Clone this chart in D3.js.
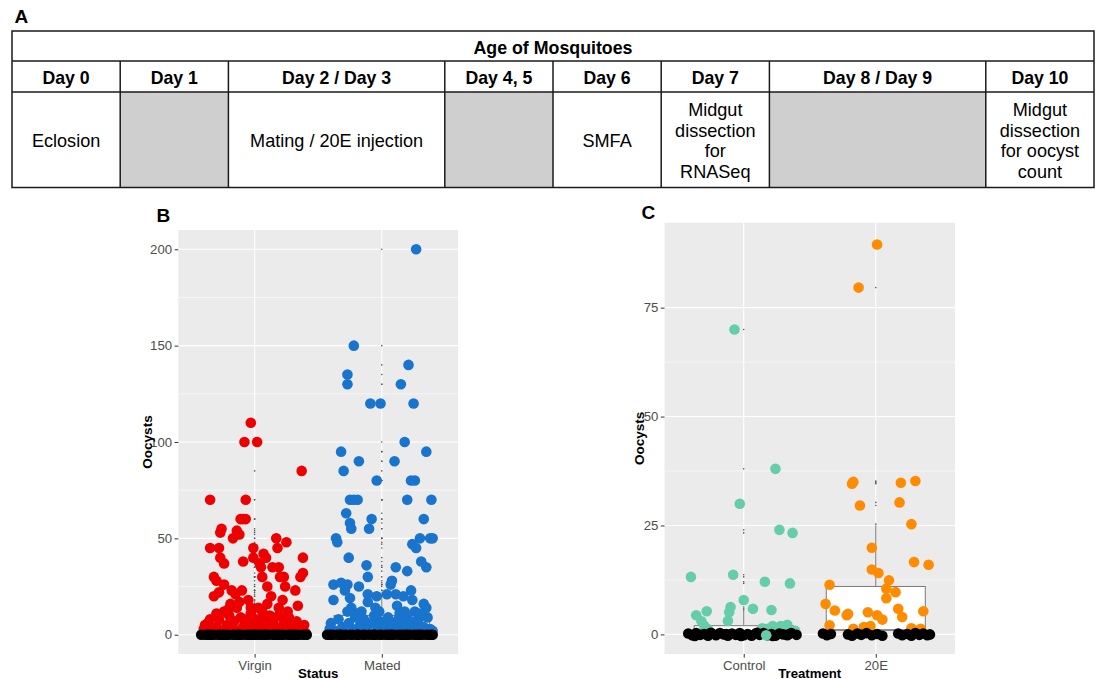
<!DOCTYPE html>
<html><head><meta charset="utf-8">
<script src="https://cdn.jsdelivr.net/npm/d3@7"></script>
<style>body{margin:0;background:#fff}svg{display:block;font-family:"Liberation Sans",Arial,Helvetica,sans-serif}</style>
</head><body><svg id="c" width="1099" height="679"></svg>
<script>
// ---------------- DATA ----------------
const tableTitle = "Age of Mosquitoes";
const dayLabels = ["Day 0","Day 1","Day 2 / Day 3","Day 4, 5","Day 6","Day 7","Day 8 / Day 9","Day 10"];
const daySpans = [1,1,2,1,1,1,2,1];
const dayEvents = [["Eclosion"],[],["Mating / 20E injection"],[],["SMFA"],["Midgut","dissection","for","RNASeq"],[],["Midgut","dissection","for oocyst","count"]];

const statusCats = ["Virgin","Mated"];
const treatCats = ["Control","20E"];
const statusTicks = [0,50,100,150,200];
const treatTicks = [0,25,50,75];

// boxplot statistics
const statusQ1 = [0,0], statusMed = [0,1], statusQ3 = [5,10], statusHi = [12,22];
const treatQ1 = [0,1], treatMed = [0,1], treatQ3 = [2,11], treatHi = [5.5,25];

// jittered points: [jitter (category units), oocysts]
const virginPts = [[-0.03,110],[-0.08,100],[0.02,100],[0.37,85],[-0.35,70],[-0.07,70],
 [-0.11,60],[-0.09,60],[-0.07,60],[-0.26,55],[-0.27,53],[-0.14,54],[-0.12,52],
 [-0.17,50],[0.17,50],[0.25,48],[0.18,45],[-0.35,45],[-0.28,45],[-0.01,45],
 [-0.27,40],[-0.24,37],[-0.09,38],[-0.01,40],[0.07,42],[0.09,40],[0.04,37],[0.05,35],[0.14,35],[0.19,35],
 [0.38,40],[0.38,32],[0.36,30],[0.2,30],[0.23,30],[-0.32,30],[-0.3,28],[-0.24,26],[0.06,30],[0.1,25],[0.24,25],[0.32,23],
 [-0.32,20],[-0.28,22],[-0.18,23],[-0.1,23],[-0.15,21],[0.13,20],[0.22,18],[0.34,15],[0.19,14],[-0.05,18],
 [-0.19,16],[-0.14,14],[-0.24,12],[-0.03,14],[0.03,14],[0.06,12],[0.12,10],[-0.35,8],[-0.39,5],
 [-0.40,3],[-0.37,6],[-0.33,2],[-0.30,4],[-0.28,8],[-0.25,2],[-0.22,5],[-0.20,10],[-0.18,3],[-0.16,7],
 [-0.13,2],[-0.11,9],[-0.09,4],[-0.07,1],[-0.05,6],[-0.03,11],[-0.01,3],[0.01,8],[0.03,2],[0.05,5],
 [0.07,9],[0.09,3],[0.11,6],[0.13,1],[0.15,8],[0.17,4],[0.19,10],[0.21,2],[0.23,7],[0.25,3],[0.27,9],
 [0.29,5],[0.31,2],[0.33,7],[0.35,4],[0.37,2],[0.39,5],[0.40,1],[-0.35,1],[-0.15,1],[0.0,1],[0.18,1],[0.33,1],
 [-0.21,13],[0.02,6],[-0.08,8],[0.26,12],[0.30,6],[-0.12,17],[0.10,16],[-0.30,11]];
const virginZeros = [-0.42,-0.39,-0.37,-0.34,-0.32,-0.29,-0.27,-0.24,-0.22,-0.20,-0.17,-0.15,-0.12,-0.10,-0.07,
 -0.05,-0.03,-0.01,0.02,0.04,0.06,0.09,0.11,0.14,0.16,0.18,0.21,0.23,0.26,0.28,0.30,0.33,0.35,0.38,0.41,
 -0.36,-0.25,-0.13,0.0,0.08,0.19,0.31,0.40];

const matedPts = [[0.27,200],[-0.22,150],[-0.27,135],[-0.27,130],[0.21,140],[0.15,130],[-0.09,120],[-0.01,120],[0.25,120],
 [0.18,100],[-0.32,95],[0.35,95],[-0.18,90],[0.10,90],[-0.30,85],[-0.04,80],[0.23,80],[0.26,80],
 [-0.25,70],[-0.22,70],[-0.19,70],[0.20,70],[0.39,70],[-0.28,63],[-0.08,60],[-0.25,58],[-0.24,55],[-0.10,55],[0.33,60],
 [-0.36,50],[-0.35,48],[0.30,50],[0.38,50],[0.40,50],[0.24,47],[0.27,45],
 [-0.26,40],[0.31,38],[0.35,35],[-0.12,36],[0.11,35],[-0.11,30],[0.20,33],[0.08,28],[0.07,26],[-0.38,26],[-0.32,27],[-0.27,26],[-0.18,25],
 [-0.38,18],[-0.29,23],[-0.25,19],[-0.11,21],[-0.04,20],[0.04,21],[0.11,21],[0.17,20],[0.23,23],[-0.11,17],[0.24,18],
 [-0.24,14],[0.33,16],[0.35,14],[-0.27,12],[-0.16,12],[0.12,15],[0.18,12],[0.26,12],[-0.05,14],[-0.40,6],
 [-0.41,3],[-0.37,2],[-0.34,8],[-0.31,4],[-0.29,1],[-0.26,6],[-0.23,3],[-0.21,9],[-0.19,2],[-0.17,5],
 [-0.14,8],[-0.12,3],[-0.10,1],[-0.08,6],[-0.06,10],[-0.03,3],[-0.01,7],[0.01,2],[0.03,5],[0.05,9],
 [0.07,1],[0.09,6],[0.11,3],[0.13,8],[0.15,2],[0.17,5],[0.19,10],[0.21,3],[0.23,7],[0.25,1],[0.27,5],
 [0.29,8],[0.31,2],[0.33,4],[0.36,9],[0.38,3],[0.40,2],[-0.02,12],[0.14,11],[-0.20,11],[0.30,11]];
const matedZeros = [-0.43,-0.40,-0.38,-0.35,-0.33,-0.30,-0.28,-0.25,-0.23,-0.20,-0.18,-0.15,-0.13,-0.10,-0.07,
 -0.05,-0.02,0.00,0.03,0.05,0.08,0.10,0.13,0.15,0.17,0.20,0.22,0.25,0.27,0.30,0.32,0.35,0.37,0.40,
 -0.41,-0.32,-0.19,-0.06,0.07,0.19,0.29,0.39];

const controlPts = [[-0.07,70],[0.24,38],[-0.03,30],[0.27,24],[0.37,23.3],[-0.40,13.2],[-0.08,13.7],[0.16,12.1],[0.35,11.7],
 [0.0,7.9],[0.07,5.9],[0.21,5.6],[-0.10,6.3],[-0.11,5.1],[-0.12,3.1],[-0.36,4.4],[-0.28,5.3],[-0.32,3],[-0.30,2],[-0.27,1.2],
 [0.14,1.4],[0.18,1.3],[0.22,1.9],[0.28,1.9],[0.33,2.2],[0.39,0.8],[0.16,1.0]];
const controlTop = [[0.17,-0.2]];
const controlZeros = [[-0.42,0.2],[-0.39,-0.2],[-0.36,0.3],[-0.33,-0.1],[-0.30,0.1],[-0.27,-0.3],[-0.24,0.2],[-0.21,-0.2],
 [-0.18,0.3],[-0.15,0.0],[-0.12,-0.3],[-0.09,0.2],[-0.06,-0.1],[-0.03,0.3],[0.00,-0.2],[0.03,0.1],[0.06,-0.3],[0.09,0.2],
 [0.12,-0.1],[0.15,0.3],[0.18,-0.2],[0.21,0.1],[0.24,-0.3],[0.27,0.2],[0.30,0.0],[0.33,-0.2],[0.36,0.3],[0.40,-0.1],
 [-0.37,-0.35],[-0.25,0.35],[-0.13,0.1],[-0.02,-0.35],[0.10,0.35],[0.22,-0.35],[0.34,0.05]];

const e20Pts = [[0.01,89.5],[-0.13,79.6],[-0.17,35],[-0.18,34.6],[0.19,34.8],[0.30,35.2],[-0.12,29.6],[0.18,30.3],[0.27,25.3],
 [-0.03,19.9],[-0.03,14.9],[0.02,14.1],[0.29,16.6],[0.40,16],[-0.35,11.4],[0.10,12.4],[0.08,10.5],[0.15,9.7],[0.08,8.3],
 [-0.38,7],[-0.31,5.5],[-0.21,4.7],[-0.22,4.4],[-0.06,5.1],[0.01,4.4],[0.05,3.4],[0.17,5.9],[0.20,4],[0.36,5.3],
 [-0.35,2.1],[-0.17,1.3],[-0.09,1.7],[-0.04,1.9],[0.27,1.4],[0.34,1.3]];
const e20Zeros = [[-0.40,0.2],[-0.37,-0.2],[-0.34,0.1],[-0.21,0.0],[-0.18,-0.3],[-0.14,0.2],[-0.11,-0.1],[-0.07,0.3],
 [-0.03,-0.2],[0.01,0.1],[0.05,-0.3],[0.17,0.2],[0.20,-0.2],[0.24,0.1],[0.27,-0.3],[0.30,0.3],[0.33,-0.1],[0.36,0.2],[0.39,-0.2],[0.41,0.0]];

// ---------------- DRAW ----------------
const svg = d3.select("#c");
const FONT = '"Liberation Sans",Arial,Helvetica,sans-serif';

// Panel A: table
svg.append("text").attr("x",14.5).attr("y",23).attr("font-size",19).attr("font-weight","bold").text("A");
const tx = d3.scaleLinear().domain([0, d3.sum(daySpans)]).range([12, 1094]);
const rows = [31, 61, 92, 187.5];
const ends = Array.from(d3.cumsum(daySpans));
const starts = ends.map((e,i)=> e - daySpans[i]);
const tg = svg.append("g");
tg.selectAll("rect.g").data(dayEvents.map((ev,i)=>({ev,i})).filter(d=>d.ev.length===0)).join("rect")
  .attr("x",d=>tx(starts[d.i])).attr("y",rows[2]).attr("width",d=>tx(ends[d.i])-tx(starts[d.i])).attr("height",rows[3]-rows[2])
  .attr("fill","#d0cfd0");
tg.append("text").attr("x",(tx(0)+tx(d3.sum(daySpans)))/2).attr("y",54).attr("text-anchor","middle")
  .attr("font-size",17.8).attr("font-weight","bold").text(tableTitle);
tg.selectAll("text.day").data(dayLabels).join("text").attr("class","day")
  .attr("x",(d,i)=>(tx(starts[i])+tx(ends[i]))/2).attr("y",84).attr("text-anchor","middle")
  .attr("font-size",17.7).attr("font-weight","bold").text(d=>d);
const lh = 20.8, rc = (rows[2]+rows[3])/2;
dayEvents.forEach((ev,i)=>{
  ev.forEach((line,k)=>{
    tg.append("text").attr("x",(tx(starts[i])+tx(ends[i]))/2)
      .attr("y", rc + 7.3 + (k - (ev.length-1)/2)*lh).attr("text-anchor","middle")
      .attr("font-size",18.1).text(line);
  });
});
const lineCol = "#1a1a1a";
tg.append("rect").attr("x",tx(0)).attr("y",rows[0]).attr("width",tx(d3.sum(daySpans))-tx(0)).attr("height",rows[3]-rows[0])
  .attr("fill","none").attr("stroke",lineCol).attr("stroke-width",1.5);
[rows[1],rows[2]].forEach(y=>tg.append("line").attr("x1",tx(0)).attr("x2",tx(d3.sum(daySpans))).attr("y1",y).attr("y2",y)
  .attr("stroke",lineCol).attr("stroke-width",1.5));
ends.slice(0,-1).forEach(e=>tg.append("line").attr("x1",tx(e)).attr("x2",tx(e)).attr("y1",rows[1]).attr("y2",rows[3])
  .attr("stroke",lineCol).attr("stroke-width",1.5));

// generic ggplot-like panel
function panel(o){
  const g = svg.append("g");
  const x = d3.scaleLinear().domain([0.4, 2.6]).range([o.x0, o.x1]);
  const y = d3.scaleLinear().domain(o.ydom).range([o.y1, o.y0]);
  g.append("rect").attr("x",o.x0).attr("y",o.y0).attr("width",o.x1-o.x0).attr("height",o.y1-o.y0).attr("fill","#ebebeb");
  const minor = d3.pairs(o.ticks).map(p=>(p[0]+p[1])/2);
  g.selectAll("line.mi").data(minor).join("line").attr("x1",o.x0).attr("x2",o.x1)
    .attr("y1",d=>y(d)).attr("y2",d=>y(d)).attr("stroke","#fff").attr("stroke-width",0.55);
  g.selectAll("line.ma").data(o.ticks).join("line").attr("x1",o.x0).attr("x2",o.x1)
    .attr("y1",d=>y(d)).attr("y2",d=>y(d)).attr("stroke","#fff").attr("stroke-width",1.1);
  g.selectAll("line.vx").data(o.cats).join("line").attr("x1",(d,i)=>x(i+1)).attr("x2",(d,i)=>x(i+1))
    .attr("y1",o.y0).attr("y2",o.y1).attr("stroke","#fff").attr("stroke-width",1.1);
  const bw = 0.375;
  o.cats.forEach((c,i)=>{
    const cx = i+1, boxCol = "#7a7a7a";
    g.append("line").attr("x1",x(cx)).attr("x2",x(cx)).attr("y1",y(o.q3[i])).attr("y2",y(o.hi[i])).attr("stroke",boxCol).attr("stroke-width",1);
    g.append("rect").attr("x",x(cx-bw)).attr("width",x(cx+bw)-x(cx-bw)).attr("y",y(o.q3[i])).attr("height",Math.max(0.5,y(o.q1[i])-y(o.q3[i])))
      .attr("fill","#fff").attr("stroke",boxCol).attr("stroke-width",1);
    g.append("line").attr("x1",x(cx-bw)).attr("x2",x(cx+bw)).attr("y1",y(o.med[i])).attr("y2",y(o.med[i])).attr("stroke",boxCol).attr("stroke-width",1.6);
    const outl = o.groups[i].pts.filter(p=>p[1]>o.hi[i]);
    g.selectAll(null).data(outl).join("circle").attr("cx",x(cx)).attr("cy",p=>y(p[1])).attr("r",0.8).attr("fill","#555");
  });
  const R = 5.3;
  o.groups.forEach((gr,i)=>{
    g.selectAll(null).data(gr.pts).join("circle").attr("cx",p=>x(i+1+p[0])).attr("cy",p=>y(p[1])).attr("r",R).attr("fill",gr.color);
  });
  o.groups.forEach((gr,i)=>{
    g.selectAll(null).data(gr.zeros).join("circle").attr("cx",p=>x(i+1+(Array.isArray(p)?p[0]:p))).attr("cy",p=>y(Array.isArray(p)?p[1]:0)).attr("r",R).attr("fill","#000");
  });
  o.groups.forEach((gr,i)=>{
    if(gr.top) g.selectAll(null).data(gr.top).join("circle").attr("cx",p=>x(i+1+p[0])).attr("cy",p=>y(p[1])).attr("r",R).attr("fill",gr.color);
  });
  const ya = d3.axisLeft(y).tickValues(o.ticks).tickSize(3.7).tickPadding(2.5);
  const yg = g.append("g").attr("transform",`translate(${o.x0},0)`).call(ya);
  yg.select(".domain").remove();
  yg.selectAll("line").attr("stroke","#333");
  yg.selectAll("text").attr("font-size",13.2).attr("fill","#4d4d4d").attr("font-family",FONT);
  const xa = d3.axisBottom(x).tickValues(o.cats.map((c,i)=>i+1)).tickFormat((d)=>o.cats[d-1]).tickSize(3.7).tickPadding(2.5);
  const xg = g.append("g").attr("transform",`translate(0,${o.y1})`).call(xa);
  xg.select(".domain").remove();
  xg.selectAll("line").attr("stroke","#333");
  xg.selectAll("text").attr("font-size",13.2).attr("fill","#4d4d4d").attr("font-family",FONT);
  g.append("text").attr("x",(o.x0+o.x1)/2).attr("y",677.5).attr("text-anchor","middle").attr("font-size",13.2).attr("font-weight","bold").text(o.xlab);
  g.append("text").attr("transform",`translate(${o.ylabX},${(o.y0+o.y1)/2}) rotate(-90)`).attr("text-anchor","middle")
    .attr("font-size",13.5).attr("font-weight","bold").text("Oocysts");
  g.append("text").attr("x",o.lab[0]).attr("y",o.lab[1]).attr("font-size",19).attr("font-weight","bold").text(o.label);
}

panel({x0:178.3,x1:458.1,y0:230,y1:654,ydom:[-10,210],ticks:statusTicks,cats:statusCats,
  q1:statusQ1,med:statusMed,q3:statusQ3,hi:statusHi,
  groups:[{pts:virginPts,zeros:virginZeros,color:"#ee0000"},{pts:matedPts,zeros:matedZeros,color:"#1874cd"}],
  xlab:"Status",ylabX:151.5,label:"B",lab:[156.5,222]});

panel({x0:664.5,x1:955,y0:222.7,y1:654,ydom:[-4.5,94.5],ticks:treatTicks,cats:treatCats,
  q1:treatQ1,med:treatMed,q3:treatQ3,hi:treatHi,
  groups:[{pts:controlPts,zeros:controlZeros,top:controlTop,color:"#66cdaa"},{pts:e20Pts,zeros:e20Zeros,color:"#ff8c00"}],
  xlab:"Treatment",ylabX:644,label:"C",lab:[641.5,218.5]});
</script></body></html>
